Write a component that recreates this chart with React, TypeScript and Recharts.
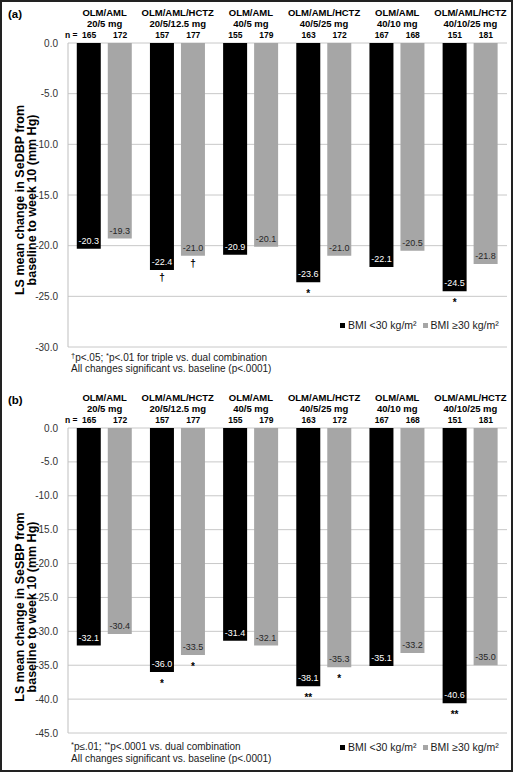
import React from "react";
import { BarChart, Bar, XAxis, YAxis, CartesianGrid, Legend, LabelList } from "recharts";

const FONT = '"Liberation Sans", Arial, sans-serif';

const groupNames = ["OLM/AML", "OLM/AML/HCTZ", "OLM/AML", "OLM/AML/HCTZ", "OLM/AML", "OLM/AML/HCTZ"];
const doses = ["20/5 mg", "20/5/12.5 mg", "40/5 mg", "40/5/25 mg", "40/10 mg", "40/10/25 mg"];
const nLow = [165, 157, 155, 163, 167, 151];
const nHigh = [172, 177, 179, 172, 168, 181];

const dbpLow = [-20.3, -22.4, -20.9, -23.6, -22.1, -24.5];
const dbpHigh = [-19.3, -21.0, -20.1, -21.0, -20.5, -21.8];
const sbpLow = [-32.1, -36.0, -31.4, -38.1, -35.1, -40.6];
const sbpHigh = [-30.4, -33.5, -32.1, -35.3, -33.2, -35.0];

const dbpSigLow = ["", "†", "", "*", "", "*"];
const dbpSigHigh = ["", "†", "", "", "", ""];
const sbpSigLow = ["", "*", "", "**", "", "**"];
const sbpSigHigh = ["", "*", "", "*", "", ""];

const dbpTicks = [0, -5, -10, -15, -20, -25, -30];
const sbpTicks = [0, -5, -10, -15, -20, -25, -30, -35, -40, -45];

const seriesNames = ["BMI <30 kg/m²", "BMI ≥30 kg/m²"];
const BLACK = "#000000";
const GRAY = "#a6a6a6";

const buildData = (low: number[], high: number[]) =>
  groupNames.map((g, i) => ({ cat: `${g} ${doses[i]}`, low: low[i], high: high[i] }));

const HeaderTick = (props: any) => {
  const { x, y, payload, index } = props;
  const i = payload && payload.index !== undefined ? payload.index : index;
  const common = { fontFamily: FONT, fontWeight: "bold" as const, fill: "#000", textAnchor: "middle" as const, dominantBaseline: "central" as const };
  return (
    <g>
      <text x={x} y={y - 31} fontSize={9.5} {...common}>{groupNames[i]}</text>
      <text x={x} y={y - 20} fontSize={9.5} {...common}>{doses[i]}</text>
      <text x={x - 15.5} y={y - 8} fontSize={8.5} {...common}>{nLow[i]}</text>
      <text x={x + 15.5} y={y - 8} fontSize={8.5} {...common}>{nHigh[i]}</text>
      {i === 0 && (
        <text x={x - 27} y={y - 8} fontSize={8.5} {...common} textAnchor="end">n =</text>
      )}
    </g>
  );
};

const makeValueLabel = (textColor: string, sig: string[]) => (props: any) => {
  const vb = props.viewBox || {};
  const x = Number(props.x ?? vb.x);
  const y = Number(props.y ?? vb.y);
  const width = Number(props.width ?? vb.width);
  const height = Number(props.height ?? vb.height);
  const { value, index } = props;
  const bottom = Math.max(y, y + height);
  const cx = x + width / 2;
  const s = sig[index];
  return (
    <g>
      <text x={cx} y={bottom - 8} textAnchor="middle" dominantBaseline="central" fontSize={9} fontFamily={FONT} fill={textColor}>
        {Number(value).toFixed(1)}
      </text>
      {s ? (
        <text x={cx} y={bottom + (s === "†" ? 11 : 15)} textAnchor="middle" fontSize={10} fontWeight="bold" fontFamily={FONT} fill="#000" opacity={0.995}>
          {s}
        </text>
      ) : null}
    </g>
  );
};

const YTitle = (props: any) => {
  const { lines, cy } = props;
  return (
    <g>
      {lines.map((l: string, i: number) => (
        <text
          key={i}
          x={0}
          y={0}
          transform={`translate(${20 + i * 12},${cy}) rotate(-90)`}
          textAnchor="middle"
          dominantBaseline="central"
          fontSize={12.5}
          fontWeight="bold"
          fontFamily={FONT}
          fill="#000"
        >
          {l}
        </text>
      ))}
    </g>
  );
};

const LegendContent = (props: any) => {
  const payload = props.payload || [];
  return (
    <div style={{ display: "flex", alignItems: "center", fontFamily: FONT, fontSize: 10.5, color: "#1a1a1a", whiteSpace: "nowrap" }}>
      {payload.map((p: any, i: number) => (
        <span key={i} style={{ display: "inline-flex", alignItems: "center", marginRight: i === 0 ? 6 : 0 }}>
          <span style={{ display: "inline-block", width: 5, height: 5, background: p.color, marginRight: 3 }} />
          {p.value}
        </span>
      ))}
    </div>
  );
};

type PanelProps = {
  top: number;
  height: number;
  bottomMargin: number;
  data: any[];
  ticks: number[];
  sigLow: string[];
  sigHigh: string[];
  titleLines: string[];
  titleCenter: number;
  legendTop: number;
};

const Panel = (p: PanelProps) => (
  <div style={{ position: "absolute", left: 0, top: p.top, width: 514, height: p.height }}>
    <BarChart
      width={514}
      height={p.height}
      data={p.data}
      margin={{ top: 0, right: 7, bottom: p.bottomMargin, left: 0 }}
      barCategoryGap="12%"
      barGap={7}
    >
      <CartesianGrid vertical={false} stroke="#c8c8c8" />
      <XAxis
        dataKey="cat"
        orientation="top"
        height={43}
        axisLine={false}
        tickLine={false}
        tickSize={0}
        tickMargin={0}
        interval={0}
        tick={<HeaderTick />}
      />
      <YAxis
        type="number"
        domain={[p.ticks[p.ticks.length - 1], 0]}
        ticks={p.ticks}
        interval={0}
        width={68}
        axisLine={{ stroke: "#bfbfbf" }}
        tickLine={false}
        tickMargin={4}
        tick={{ fontSize: 10, fontFamily: FONT, fill: "#333" }}
        tickFormatter={(v: number) => v.toFixed(1)}
        label={{ content: () => <YTitle lines={p.titleLines} cy={p.titleCenter} /> }}
      />
      <Legend
        layout="horizontal"
        verticalAlign="middle"
        align="center"
        content={<LegendContent />}
        wrapperStyle={{ left: 340, top: p.legendTop, width: 172, height: 14 }}
      />
      <Bar dataKey="low" name={seriesNames[0]} fill={BLACK} isAnimationActive={false}>
        <LabelList dataKey="low" content={makeValueLabel("#ffffff", p.sigLow)} />
      </Bar>
      <Bar dataKey="high" name={seriesNames[1]} fill={GRAY} isAnimationActive={false}>
        <LabelList dataKey="high" content={makeValueLabel("#262626", p.sigHigh)} />
      </Bar>
    </BarChart>
  </div>
);

const sup: React.CSSProperties = { fontSize: 7.5, position: "relative", top: -3, lineHeight: 0, opacity: 0.995 };
const noteStyle: React.CSSProperties = { position: "absolute", left: 71, fontFamily: FONT, fontSize: 10, color: "#1a1a1a", whiteSpace: "nowrap", lineHeight: "11px" };
const letterStyle: React.CSSProperties = { position: "absolute", left: 8, fontFamily: FONT, fontSize: 11.5, fontWeight: "bold", color: "#000", lineHeight: "14px" };

export default function App() {
  return (
    <div style={{ position: "absolute", left: 0, top: 0, width: 514, height: 772, background: "#fff" }}>
      <Panel
        top={0}
        height={384}
        bottomMargin={37}
        data={buildData(dbpLow, dbpHigh)}
        ticks={dbpTicks}
        sigLow={dbpSigLow}
        sigHigh={dbpSigHigh}
        titleLines={["LS mean change in SeDBP from", "baseline to week 10 (mm Hg)"]}
        titleCenter={200}
        legendTop={319}
      />
      <Panel
        top={385}
        height={387}
        bottomMargin={39}
        data={buildData(sbpLow, sbpHigh)}
        ticks={sbpTicks}
        sigLow={sbpSigLow}
        sigHigh={sbpSigHigh}
        titleLines={["LS mean change in SeSBP from", "baseline to week 10 (mm Hg)"]}
        titleCenter={222}
        legendTop={356}
      />
      <div style={{ ...letterStyle, top: 7 }}>(a)</div>
      <div style={{ ...letterStyle, top: 393 }}>(b)</div>
      <div style={{ ...noteStyle, top: 352 }}>
        <span style={sup}>†</span>p&lt;.05; <span style={sup}>*</span>p&lt;.01 for triple vs. dual combination
      </div>
      <div style={{ ...noteStyle, top: 363 }}>All changes significant vs. baseline (p&lt;.0001)</div>
      <div style={{ ...noteStyle, top: 741 }}>
        <span style={sup}>*</span>p≤.01; <span style={sup}>**</span>p&lt;.0001 vs. dual combination
      </div>
      <div style={{ ...noteStyle, top: 753 }}>All changes significant vs. baseline (p&lt;.0001)</div>
      <div style={{ position: "absolute", left: 0, top: 0, width: 513, height: 772, border: "2px solid #222", boxSizing: "border-box", pointerEvents: "none" }} />
    </div>
  );
}
